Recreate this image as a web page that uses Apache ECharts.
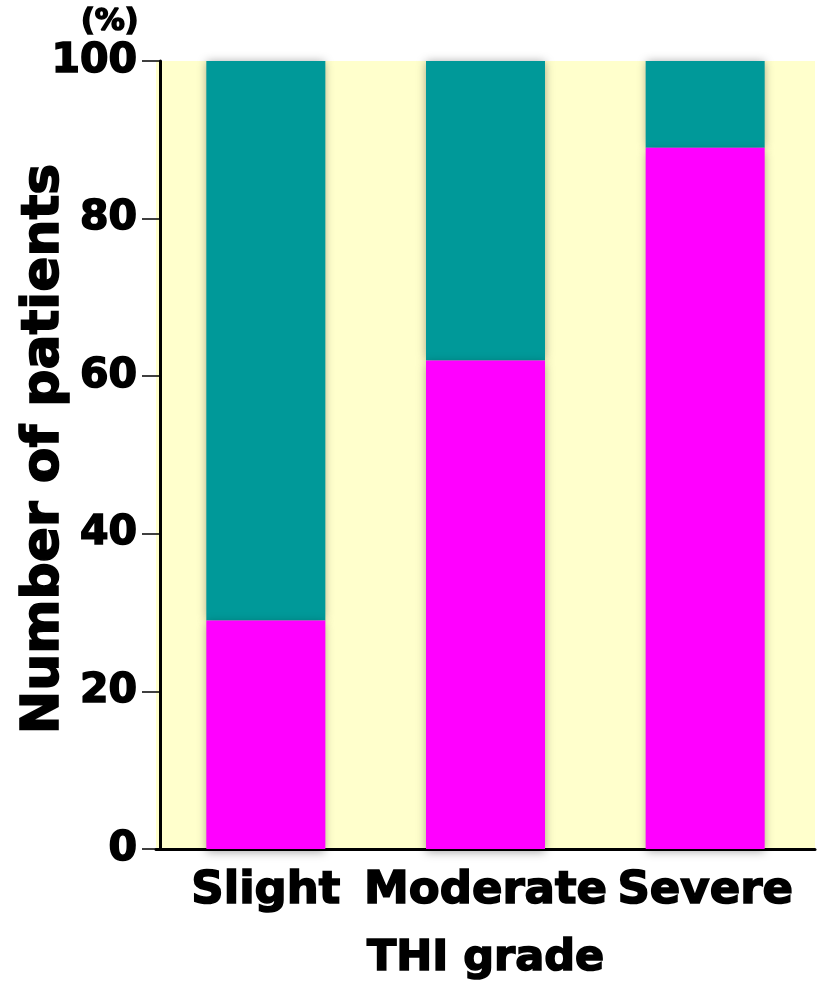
<!DOCTYPE html>
<html>
<head>
<meta charset="utf-8">
<script src="https://cdn.jsdelivr.net/npm/echarts@6/dist/echarts.min.js"></script>
<style>
  html, body { margin: 0; padding: 0; background: #ffffff; }
  #chart { width: 821px; height: 985px; }
</style>
</head>
<body>
<div id="chart"></div>
<script>
// THI grade categories and the share of patients (%) in each part of the stack
var grades = ['Slight', 'Moderate', 'Severe'];
var lowerShare = [29, 62, 89];   // magenta part
var upperShare = [71, 38, 11];   // teal part
var yTicks = [0, 20, 40, 60, 80, 100];
var yTitle = 'Number of patients';

var FONT = 'DejaVu Sans';

// heavy black lettering: bold face plus a thin outline in the same colour
function heavy(size, extra) {
  return Object.assign({
    fontFamily: FONT, fontWeight: 'bold', fontSize: size, color: '#000',
    textBorderColor: '#000', textBorderWidth: 1.6
  }, extra || {});
}

var chart = echarts.init(document.getElementById('chart'), null, { renderer: 'canvas' });

var barShadow = {
  shadowBlur: 9,
  shadowColor: 'rgba(0,0,0,0.35)',
  shadowOffsetX: 0,
  shadowOffsetY: 3
};

chart.setOption({
  animation: false,
  title: {
    text: '(%)',
    left: 76,
    top: 2,
    textStyle: heavy(30)
  },
  // vertical axis title, rotated to read bottom-to-top
  graphic: [{
    type: 'text',
    x: 70,
    y: 449,
    rotation: Math.PI / 2,
    style: {
      text: yTitle,
      font: 'bold 52px "DejaVu Sans"',
      fill: '#000',
      stroke: '#000',
      lineWidth: 1.6,
      align: 'center',
      verticalAlign: 'bottom'
    }
  }],
  grid: {
    left: 156,
    right: 6,
    top: 61,
    bottom: 136,
    containLabel: false,
    outerBoundsMode: 'none',
    show: true,
    backgroundColor: '#FFFFCC',
    borderWidth: 0
  },
  xAxis: {
    type: 'category',
    data: grades,
    name: 'THI grade',
    nameLocation: 'middle',
    nameGap: 88,
    nameTextStyle: heavy(43),
    axisLine: { lineStyle: { color: '#000', width: 3 } },
    axisTick: { show: false },
    axisLabel: heavy(45, { margin: 20, interval: 0 }),
    splitLine: { show: false }
  },
  yAxis: {
    type: 'value',
    min: yTicks[0],
    max: yTicks[yTicks.length - 1],
    interval: yTicks[1] - yTicks[0],
    offset: -4,
    axisLine: { show: true, lineStyle: { color: '#000', width: 3 } },
    axisTick: { show: true, length: 18, lineStyle: { color: '#000', width: 1.5 } },
    axisLabel: heavy(41, { margin: 23 }),
    splitLine: { show: false }
  },
  series: [
    {
      name: 'lower',
      type: 'bar',
      stack: 'share',
      data: lowerShare,
      barWidth: 119,
      z: 3,
      itemStyle: Object.assign({ color: '#FF00FF' }, barShadow)
    },
    {
      name: 'upper',
      type: 'bar',
      stack: 'share',
      data: upperShare,
      barWidth: 119,
      z: 2,
      itemStyle: Object.assign({ color: '#009999' }, barShadow, { shadowOffsetY: 0 })
    }
  ]
});
</script>
</body>
</html>
